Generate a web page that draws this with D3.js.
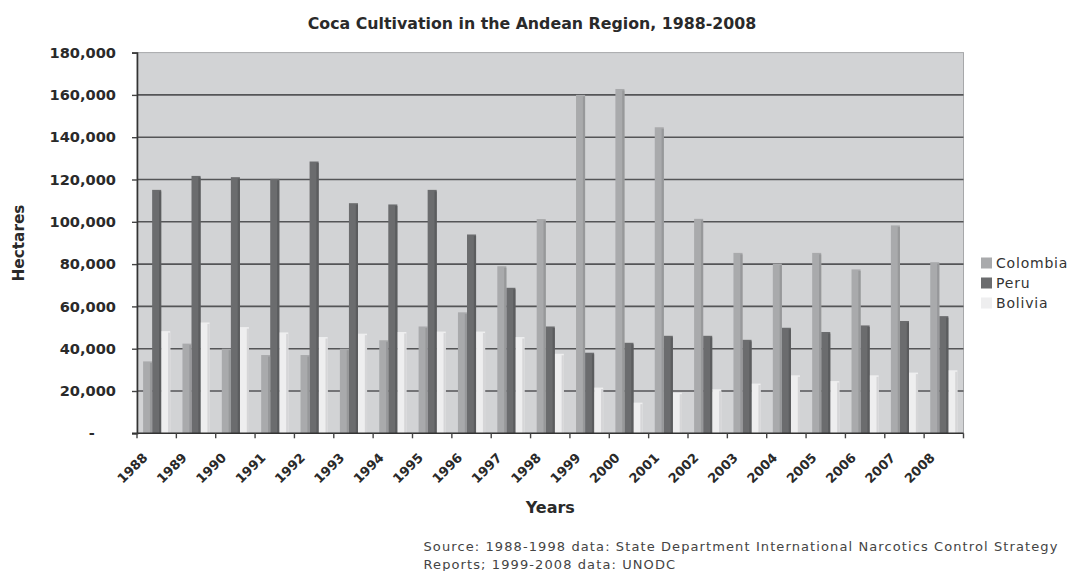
<!DOCTYPE html>
<html>
<head>
<meta charset="utf-8">
<script src="https://cdn.jsdelivr.net/npm/d3@7"></script>
<style>
  html, body { margin: 0; padding: 0; background: #ffffff; }
  svg { display: block; font-family: "DejaVu Sans", Verdana, sans-serif; }
</style>
</head>
<body>
<script>
// ---- data ----
const years = ["1988","1989","1990","1991","1992","1993","1994","1995","1996","1997","1998",
               "1999","2000","2001","2002","2003","2004","2005","2006","2007","2008"];
const seriesNames = ["Colombia", "Peru", "Bolivia"];
const colombia = [34000, 42400, 40000, 37000, 37000, 40000, 44000, 50500, 57200, 79000, 101300,
                  160000, 162800, 144700, 101400, 85300, 80200, 85300, 77500, 98300, 80900];
const peru     = [115100, 121700, 121100, 120300, 128500, 108800, 108200, 115100, 94000, 68800, 50500,
                  38100, 42800, 46100, 46100, 44200, 49900, 47900, 51000, 53100, 55400];
const bolivia  = [48300, 52400, 50200, 47700, 45500, 47100, 47900, 48100, 48100, 45500, 37600,
                  21600, 14500, 19200, 20800, 23500, 27400, 24700, 27400, 28700, 29800];
const yTicks = [0, 20000, 40000, 60000, 80000, 100000, 120000, 140000, 160000, 180000];
const yTickLabels = ["-", "20,000", "40,000", "60,000", "80,000", "100,000", "120,000", "140,000", "160,000", "180,000"];

const title = "Coca Cultivation in the Andean Region, 1988-2008";
const yTitle = "Hectares";
const xTitle = "Years";
const sourceLines = ["Source: 1988-1998 data: State Department International Narcotics Control Strategy",
                     "Reports; 1999-2008 data: UNODC"];

// ---- styles ----
const colors = { Colombia: "#a9aaac", Peru: "#6b6c6e", Bolivia: "#eeeeef" };
const shade  = { Colombia: "#97989a", Peru: "#5b5c5e", Bolivia: "#d6d6d8" };

const W = 1070, H = 571;
const plot = { left: 137, right: 963.5, top: 52.6, bottom: 433.3 };

const table = years.map((yr, i) => ({ year: yr, Colombia: colombia[i], Peru: peru[i], Bolivia: bolivia[i] }));

const svg = d3.select("body").append("svg").attr("width", W).attr("height", H);

const x0 = d3.scaleBand().domain(years).range([plot.left, plot.right]).paddingInner(0.31).paddingOuter(0.155);
const x1 = d3.scaleBand().domain(seriesNames).range([0, x0.bandwidth()]);
const y  = d3.scaleLinear().domain([0, 180000]).range([plot.bottom, plot.top]);

// plot background
svg.append("rect")
  .attr("x", plot.left).attr("y", plot.top)
  .attr("width", plot.right - plot.left).attr("height", plot.bottom - plot.top)
  .attr("fill", "#d2d3d5").attr("stroke", "#a7a8aa").attr("stroke-width", 1);

// gridlines
svg.append("g").selectAll("line")
  .data(yTicks.filter(d => d > 0 && d < 180000))
  .join("line")
  .attr("x1", plot.left).attr("x2", plot.right)
  .attr("y1", d => y(d)).attr("y2", d => y(d))
  .attr("stroke", "#545557").attr("stroke-width", 1.6);

// bars
const groups = svg.append("g").selectAll("g")
  .data(table).join("g")
  .attr("transform", d => `translate(${x0(d.year)},0)`);

groups.selectAll("rect.bar")
  .data(d => seriesNames.map(k => ({ key: k, value: d[k] })))
  .join("rect").attr("class", "bar")
  .attr("x", d => x1(d.key))
  .attr("y", d => y(d.value))
  .attr("width", x1.bandwidth())
  .attr("height", d => y(0) - y(d.value))
  .attr("fill", d => colors[d.key]);

groups.selectAll("rect.shade")
  .data(d => seriesNames.map(k => ({ key: k, value: d[k] })))
  .join("rect").attr("class", "shade")
  .attr("x", d => x1(d.key) + x1.bandwidth() - 2.2)
  .attr("y", d => y(d.value) + 1.5)
  .attr("width", 2.2)
  .attr("height", d => y(0) - y(d.value) - 1.5)
  .attr("fill", d => shade[d.key]);

// y axis
const yAxis = svg.append("g")
  .attr("transform", `translate(${plot.left},0)`)
  .call(d3.axisLeft(y).tickValues(yTicks).tickSize(5).tickPadding(16)
        .tickFormat((d, i) => yTickLabels[i]));
yAxis.select(".domain").attr("stroke", "#333").attr("stroke-width", 1.6);
yAxis.selectAll(".tick line").attr("stroke", "#444").attr("stroke-width", 1.4);
yAxis.selectAll(".tick text")
  .attr("fill", "#2a2a2a").attr("font-size", "14.6px").attr("font-weight", "bold")
  .attr("font-family", "DejaVu Sans, sans-serif");
yAxis.selectAll(".tick text").filter(d => d === 0).attr("dx", "-1.45em");

// x axis line and boundary ticks
const step = x0.step();
const bounds = years.map(yr => x0(yr) - x0.paddingOuter() * step).concat([plot.right]);
svg.append("line")
  .attr("x1", plot.left - 5).attr("x2", plot.right)
  .attr("y1", plot.bottom).attr("y2", plot.bottom)
  .attr("stroke", "#333").attr("stroke-width", 1.6);
svg.append("g").selectAll("line")
  .data(bounds).join("line")
  .attr("x1", d => d).attr("x2", d => d)
  .attr("y1", plot.bottom).attr("y2", plot.bottom + 5)
  .attr("stroke", "#444").attr("stroke-width", 1.4);

// x labels
svg.append("g").selectAll("text")
  .data(years).join("text")
  .attr("transform", d => `translate(${x0(d) + x0.bandwidth() / 2 - 11.5},${plot.bottom + 22}) rotate(-45)`)
  .attr("text-anchor", "end").attr("dy", "0.35em")
  .attr("font-size", "13px").attr("font-weight", "bold").attr("fill", "#2a2a2a")
  .text(d => d);

// titles
svg.append("text")
  .attr("x", 532).attr("y", 28.5).attr("text-anchor", "middle")
  .attr("font-size", "15.8px").attr("font-weight", "bold").attr("fill", "#2a2a2a")
  .text(title);

svg.append("text")
  .attr("transform", `translate(24,243) rotate(-90)`)
  .attr("text-anchor", "middle")
  .attr("font-size", "15.3px").attr("font-weight", "bold").attr("fill", "#2a2a2a")
  .text(yTitle);

svg.append("text")
  .attr("x", (plot.left + plot.right) / 2).attr("y", 513).attr("text-anchor", "middle")
  .attr("font-size", "16px").attr("font-weight", "bold").attr("fill", "#2a2a2a")
  .text(xTitle);

// legend
const legend = svg.append("g").attr("transform", "translate(981,263)");
const li = legend.selectAll("g").data(seriesNames).join("g")
  .attr("transform", (d, i) => `translate(0,${i * 20})`);
li.append("rect").attr("x", 0).attr("y", -5.5).attr("width", 11).attr("height", 11)
  .attr("fill", d => colors[d]);
li.append("text").attr("x", 15).attr("y", 0).attr("dy", "0.36em")
  .attr("font-size", "14px").attr("letter-spacing", "0.8px").attr("fill", "#333")
  .text(d => d);

// source
svg.append("g").selectAll("text")
  .data(sourceLines).join("text")
  .attr("x", 423.5).attr("y", (d, i) => 551 + i * 17.5)
  .attr("font-size", "13px").attr("letter-spacing", "1.1px").attr("fill", "#444")
  .text(d => d);
</script>
</body>
</html>
